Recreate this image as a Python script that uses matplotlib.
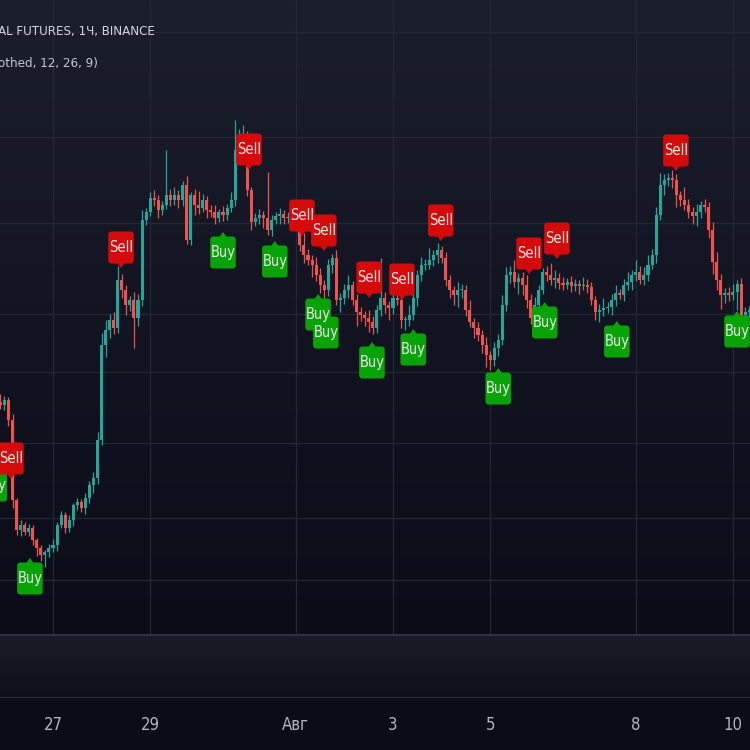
import numpy as np
import pandas as pd
import matplotlib
matplotlib.use('Agg')
import matplotlib.pyplot as plt
import matplotlib.dates as mdates
from matplotlib import font_manager as fm
from matplotlib.patches import FancyBboxPatch, Polygon
from matplotlib.transforms import ScaledTranslation
from matplotlib.colors import LinearSegmentedColormap

# --- data (2h candles, price in chart units) ---
start_time = '2022-07-25 22:00'
first_open = 298
closes = [
    295, 300, 280, 200, 170, 175, 168, 172, 160, 152,
    145, 148, 152, 155, 175, 185, 172, 180, 195, 198,
    192, 202, 215, 222, 260, 355, 370, 380, 372, 420,
    410, 395, 400, 382, 400, 480, 488, 502, 500, 490,
    495, 505, 500, 505, 500, 515, 460, 505, 495, 492,
    500, 490, 488, 482, 488, 485, 492, 500, 550, 565,
    565, 510, 478, 482, 485, 482, 470, 480, 484, 486,
    482, 482, 486, 488, 455, 445, 440, 435, 425, 415,
    410, 435, 442, 400, 402, 410, 415, 400, 388, 385,
    382, 378, 372, 390, 402, 395, 392, 402, 400, 380,
    380, 385, 402, 425, 435, 435, 440, 445, 450, 442,
    420, 410, 405, 410, 410, 390, 378, 372, 365, 355,
    345, 340, 352, 360, 395, 425, 428, 418, 422, 415,
    400, 382, 395, 410, 428, 425, 420, 422, 417, 415,
    418, 414, 416, 414, 415, 413, 400, 388, 390, 392,
    393, 400, 407, 405, 415, 418, 425, 428, 420, 425,
    435, 445, 485, 515, 520, 522, 520, 505, 500, 495,
    488, 484, 488, 495, 493, 470, 438, 420, 405, 407,
    405, 408, 416, 385, 388, 390,
]
hi_ext = [
    8, 4, 3, 6, 2, 5, 3, 4, 3, 2,
    3, 2, 4, 6, 3, 4, 3, 5, 2, 4,
    3, 5, 4, 6, 8, 12, 10, 6, 8, 14,
    6, 5, 4, 8, 6, 10, 4, 6, 8, 5,
    4, 45, 6, 8, 5, 4, 9, 3, 6, 14,
    6, 4, 5, 7, 3, 6, 4, 8, 30, 6,
    10, 4, 3, 5, 6, 4, 46, 5, 4, 6,
    4, 6, 3, 5, 8, 12, 6, 5, 8, 7,
    5, 6, 4, 8, 5, 6, 10, 4, 6, 5,
    4, 8, 6, 5, 40, 6, 4, 8, 5, 6,
    4, 10, 6, 5, 8, 6, 12, 5, 7, 4,
    6, 5, 4, 8, 6, 5, 10, 4, 6, 5,
    8, 4, 6, 6, 10, 8, 6, 12, 5, 6,
    10, 6, 8, 5, 4, 6, 12, 8, 5, 6,
    4, 6, 5, 4, 8, 6, 5, 4, 6, 10,
    5, 6, 8, 4, 6, 10, 5, 12, 6, 8,
    10, 6, 8, 12, 6, 5, 8, 6, 4, 13,
    6, 5, 8, 4, 6, 5, 8, 10, 6, 5,
    6, 8, 4, 6, 5, 4,
]
lo_ext = [
    4, 5, 6, 8, 5, 6, 3, 4, 5, 8,
    6, 12, 5, 4, 6, 3, 5, 4, 6, 5,
    4, 6, 5, 8, 6, 5, 12, 8, 6, 5,
    8, 10, 6, 30, 8, 6, 5, 4, 6, 8,
    5, 4, 6, 5, 8, 6, 4, 5, 10, 6,
    4, 8, 5, 6, 4, 6, 5, 4, 6, 8,
    5, 6, 8, 4, 6, 10, 5, 6, 4, 8,
    6, 5, 8, 10, 6, 8, 5, 12, 6, 8,
    10, 6, 8, 5, 12, 6, 8, 5, 14, 6,
    8, 10, 6, 5, 6, 8, 12, 6, 5, 8,
    10, 6, 5, 8, 6, 5, 4, 6, 8, 5,
    6, 8, 10, 12, 8, 6, 5, 10, 6, 8,
    12, 10, 6, 8, 5, 6, 8, 5, 12, 10,
    8, 6, 10, 5, 4, 6, 5, 8, 6, 5,
    4, 6, 5, 8, 4, 6, 5, 8, 10, 6,
    5, 8, 6, 4, 6, 5, 8, 6, 4, 5,
    6, 4, 8, 5, 10, 6, 8, 12, 6, 5,
    6, 8, 10, 6, 5, 8, 12, 10, 14, 8,
    6, 5, 18, 8, 6, 5,
]

# signal labels: position in candles from start, price of the pointer tip
buy_pos = [-1.5, 7.3, 55, 67.8, 78.5, 80.4, 91.8, 102, 123, 134.5, 152.3, 182]
buy_price = [235, 142, 468, 459, 406, 388, 358, 371, 332, 398, 379, 389]
sell_pos = [2.6, 29.8, 61.4, 74.5, 79.9, 91.1, 99.2, 108.8, 130.6, 137.5, 166.9]
sell_price = [221, 432, 530, 464, 449, 402, 400, 459, 426, 441, 529]

grid_prices = [668, 563, 477, 386, 328, 257, 182, 120]
tick_days = ['2022-07-27', '2022-07-29', '2022-08-01', '2022-08-03',
             '2022-08-05', '2022-08-08', '2022-08-10']
tick_labels = ['27', '29', 'Авг', '3', '5', '8', '10']

UP = '#26a69a'
DOWN = '#ef5350'
BUY_C = '#07a307'
SELL_C = '#d50b0b'


def narrow_font():
    # the screenshot text is condensed; use a narrow face if one is installed
    prefs = []
    for f in fm.fontManager.ttflist:
        key = (f.name + ' ' + f.fname).lower()
        if f.style != 'normal':
            continue
        if 'bold' in key or 'light' in key or 'thin' in key or 'black' in key:
            continue
        if 'narrow' in key or 'condensed' in key or str(f.stretch) in ('condensed', 'semi-condensed'):
            rank = 2 if ('semi' in key or 'extra' in key or 'ultra' in key) else 1
            prefs.append((rank, f.fname))
    if prefs:
        prefs.sort()
        return fm.FontProperties(fname=prefs[0][1])
    return fm.FontProperties(family=['Liberation Sans', 'DejaVu Sans'])


FONT = narrow_font()

fig = plt.figure(figsize=(7.5, 7.5), dpi=100, facecolor='#0a0d17')

# main price pane
ax = fig.add_axes([0, 116 / 750, 1, 634 / 750])
ax.set_facecolor('#12151f')
bg = LinearSegmentedColormap.from_list('bg', ['#0a0d18', '#1b1e2b'])
ax.imshow(np.linspace(1, 0, 256).reshape(-1, 1), cmap=bg, aspect='auto',
          extent=[0, 1, 0, 1], transform=ax.transAxes, zorder=0)

t0 = pd.Timestamp(start_time)
times = pd.date_range(t0, periods=len(closes), freq='2h')
xs = mdates.date2num(times)
step = 2 / 24

opens = [first_open] + closes[:-1]
o = np.array(opens, dtype=float)
c = np.array(closes, dtype=float)
highs = np.maximum(o, c) + np.array(hi_ext)
lows = np.minimum(o, c) - np.array(lo_ext)
cols = [UP if cc >= oo else DOWN for oo, cc in zip(o, c)]

ax.vlines(xs, lows, highs, colors=cols, linewidth=0.9, zorder=3)
ax.bar(xs, np.maximum(np.abs(c - o), 1.0), bottom=np.minimum(o, c),
       width=step * 0.75, color=cols, linewidth=0, zorder=4)

# x range: Jul 27 00:00 sits at 53 px, 48.57 px per day
day0 = mdates.date2num(pd.Timestamp('2022-07-27'))
px_day = 48.57
ax.set_xlim(day0 - 53 / px_day, day0 + (750 - 53) / px_day)
ax.set_ylim(66, 700)

tick_x = mdates.date2num(pd.to_datetime(tick_days))
for tx in tick_x:
    ax.axvline(tx, color='#242835', linewidth=0.9, zorder=1)
for gp in grid_prices:
    ax.axhline(gp, color='#242835', linewidth=0.9, zorder=1)
ax.axis('off')


def draw_label(x, y, text, color, above, z):
    trans = fig.dpi_scale_trans + ScaledTranslation(x, y, ax.transData)
    w, h, p, hw = 0.255, 0.32, 0.045, 0.04
    if above:
        y0 = p
        tri = [(-hw, p + 0.01), (hw, p + 0.01), (0, 0)]
    else:
        y0 = -p - h
        tri = [(-hw, -p - 0.01), (hw, -p - 0.01), (0, 0)]
    box = FancyBboxPatch((-w / 2, y0), w, h,
                         boxstyle='round,pad=0,rounding_size=0.03',
                         transform=trans, facecolor=color, edgecolor='none',
                         zorder=z)
    ax.add_patch(box)
    ax.add_patch(Polygon(tri, closed=True, transform=trans, facecolor=color,
                         edgecolor='none', zorder=z))
    ax.text(0, y0 + h / 2, text, transform=trans, ha='center', va='center',
            color='#e8e8e8', fontproperties=FONT, fontsize=10.5, zorder=z + 0.5)


for i, (bp, bpr) in enumerate(zip(buy_pos, buy_price)):
    draw_label(mdates.date2num(t0) + bp * step, bpr, 'Buy', BUY_C, False, 6 + i * 0.01)
for i, (sp, spr) in enumerate(zip(sell_pos, sell_price)):
    draw_label(mdates.date2num(t0) + sp * step, spr, 'Sell', SELL_C, True, 8 + i * 0.01)

# empty indicator pane
pane = fig.add_axes([0, 52 / 750, 1, 64 / 750])
pane_bg = LinearSegmentedColormap.from_list('pane', ['#0d101a', '#1a1d28'])
pane.imshow(np.linspace(1, 0, 64).reshape(-1, 1), cmap=pane_bg, aspect='auto',
            extent=[0, 1, 0, 1], transform=pane.transAxes, zorder=0)
pane.axhline(1, color='#2e3240', linewidth=2)
pane.axhline(0, color='#2e3240', linewidth=2)
pane.set_xlim(0, 1)
pane.set_ylim(0, 1)
pane.axis('off')

# time axis labels
x_lo, x_hi = ax.get_xlim()
for tx, lab in zip(tick_x, tick_labels):
    fx = (tx - x_lo) / (x_hi - x_lo)
    fig.text(fx, 1 - 725 / 750, lab, ha='center', va='center',
             color='#b2b5be', fontproperties=FONT, fontsize=12)

# legend texts (cut off at the left edge)
fig.text(-0.002, 1 - 31 / 750, 'AL FUTURES, 1Ч, BINANCE', ha='left',
         va='center', color='#d1d4dc', fontproperties=FONT, fontsize=9.5)
fig.text(-0.002, 1 - 64 / 750, 'othed, 12, 26, 9)', ha='left',
         va='center', color='#c3c6ce', fontproperties=FONT, fontsize=9.5)

fig.savefig('out.png', dpi=100, facecolor=fig.get_facecolor())
